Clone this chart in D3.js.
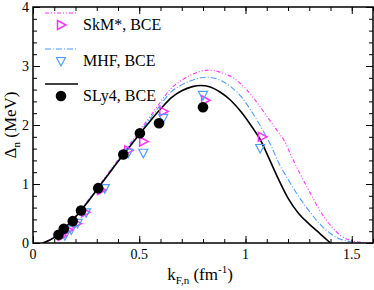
<!DOCTYPE html>
<html>
<head>
<meta charset="utf-8">
<script src="https://cdn.jsdelivr.net/npm/d3@7"></script>
<style>
  body { margin: 0; background: #fff; }
  svg text { font-family: "Liberation Serif", "Times New Roman", serif; }
</style>
</head>
<body>
<div id="chart"></div>
<script>
// curves (k_F,n in fm^-1, Delta_n in MeV)
var sly4Curve = [[0.046,0],[0.08,0.05],[0.12,0.15],[0.16,0.29],[0.2,0.44],[0.25,0.66],[0.3,0.9],[0.35,1.14],[0.4,1.38],[0.45,1.61],[0.5,1.84],[0.55,2.06],[0.6,2.27],[0.65,2.46],[0.7,2.58],[0.75,2.65],[0.79,2.67],[0.83,2.65],[0.88,2.56],[0.93,2.42],[0.98,2.22],[1.03,1.97],[1.07,1.75],[1.1,1.52],[1.15,1.12],[1.2,0.76],[1.25,0.5],[1.3,0.32],[1.35,0.16],[1.4,0]];
var mhfCurve = [[0.05,0],[0.08,0.05],[0.12,0.16],[0.16,0.3],[0.2,0.45],[0.25,0.67],[0.3,0.91],[0.35,1.15],[0.4,1.39],[0.45,1.63],[0.5,1.87],[0.55,2.1],[0.6,2.34],[0.65,2.56],[0.7,2.68],[0.75,2.76],[0.82,2.81],[0.88,2.76],[0.93,2.65],[0.98,2.48],[1.03,2.22],[1.08,1.92],[1.12,1.65],[1.16,1.33],[1.2,1.08],[1.25,0.79],[1.3,0.54],[1.35,0.32],[1.4,0.16],[1.45,0.06],[1.5,0.02],[1.55,0]];
var skmCurve = [[0.05,0],[0.12,0.16],[0.2,0.46],[0.3,0.92],[0.4,1.41],[0.45,1.65],[0.5,1.9],[0.55,2.14],[0.6,2.39],[0.65,2.62],[0.7,2.76],[0.75,2.86],[0.83,2.93],[0.9,2.87],[0.95,2.78],[1.0,2.62],[1.05,2.4],[1.1,2.15],[1.15,1.9],[1.18,1.75],[1.22,1.44],[1.26,1.15],[1.3,0.88],[1.35,0.55],[1.4,0.3],[1.45,0.12],[1.5,0.04],[1.55,0.01],[1.6,0]];

// BCE points
var skmPts = [[0.135,0.12],[0.165,0.22],[0.205,0.33],[0.245,0.52],[0.32,0.9],[0.448,1.57],[0.519,1.72],[0.613,2.23],[0.81,2.42],[1.077,1.80]];
var mhfPts = [[0.15,0.13],[0.18,0.23],[0.21,0.34],[0.25,0.52],[0.338,0.93],[0.448,1.53],[0.519,1.53],[0.613,2.12],[0.80,2.51],[1.069,1.61]];
var sly4Pts = [[0.12,0.14],[0.145,0.24],[0.187,0.37],[0.226,0.55],[0.307,0.93],[0.425,1.50],[0.503,1.86],[0.593,2.03],[0.80,2.30]];

var xTicks = [0, 0.5, 1, 1.5];
var yTicks = [0, 1, 2, 3, 4];
var legendNames = ["SkM*, BCE", "MHF, BCE", "SLy4, BCE"];

var svgWidth = 374, svgHeight = 290;
var margin = {left: 33, right: 1, top: 7, bottom: 47};
var width = svgWidth - margin.left - margin.right;
var height = svgHeight - margin.top - margin.bottom;

var magenta = "#ff33ff", blue = "#4d9dff";

var svg = d3.select("#chart").append("svg")
  .attr("width", svgWidth)
  .attr("height", svgHeight);

var g = svg.append("g")
  .attr("transform", `translate(${margin.left},${margin.top})`);

var xScale = d3.scaleLinear().domain([0, 1.6]).range([0, width]);
var yScale = d3.scaleLinear().domain([0, 4]).range([height, 0]);

g.append("clipPath").attr("id", "clip")
  .append("rect").attr("width", width).attr("height", height);

var line = d3.line()
  .x(d => xScale(d[0]))
  .y(d => yScale(d[1]))
  .curve(d3.curveMonotoneX);

var plot = g.append("g").attr("clip-path", "url(#clip)");

plot.append("path").datum(skmCurve)
  .attr("d", line).attr("fill", "none")
  .attr("stroke", magenta).attr("stroke-width", 1.1)
  .attr("stroke-dasharray", "4,2,1,2,1,2");

plot.append("path").datum(mhfCurve)
  .attr("d", line).attr("fill", "none")
  .attr("stroke", blue).attr("stroke-width", 1.1)
  .attr("stroke-dasharray", "6,2,1,2");

plot.append("path").datum(sly4Curve)
  .attr("d", line).attr("fill", "none")
  .attr("stroke", "#000").attr("stroke-width", 1.6);

// markers
var triRight = "M-3.5,-4.5L5,0L-3.5,4.5Z";
var triDown = "M-4.5,-3.5L4.5,-3.5L0,5Z";

plot.selectAll(".skm").data(skmPts).enter()
  .append("path").attr("class", "skm")
  .attr("d", triRight)
  .attr("transform", d => `translate(${xScale(d[0])},${yScale(d[1])})`)
  .attr("fill", "none").attr("stroke", magenta).attr("stroke-width", 1.5);

plot.selectAll(".mhf").data(mhfPts).enter()
  .append("path").attr("class", "mhf")
  .attr("d", triDown)
  .attr("transform", d => `translate(${xScale(d[0])},${yScale(d[1])})`)
  .attr("fill", "none").attr("stroke", blue).attr("stroke-width", 1.2);

plot.selectAll(".sly").data(sly4Pts).enter()
  .append("circle").attr("class", "sly")
  .attr("cx", d => xScale(d[0]))
  .attr("cy", d => yScale(d[1]))
  .attr("r", 5.3)
  .attr("fill", "#000");

// inward ticks on all four sides
function ticks(axis, values, size, tf) {
  var a = g.append("g").attr("transform", tf)
    .call(axis.tickValues(values).tickSize(size).tickFormat(""));
  a.select(".domain").remove();
  a.selectAll("line").attr("stroke", "#000");
}
var xMinor = d3.range(0, 1.61, 0.1);
var yMinor = d3.range(0, 4.01, 0.2);

ticks(d3.axisTop(xScale), xMinor, 4, `translate(0,${height})`);
ticks(d3.axisTop(xScale), xTicks, 7, `translate(0,${height})`);
ticks(d3.axisBottom(xScale), xMinor, 4, "translate(0,0)");
ticks(d3.axisBottom(xScale), xTicks, 7, "translate(0,0)");
ticks(d3.axisRight(yScale), yMinor, 4, "translate(0,0)");
ticks(d3.axisRight(yScale), yTicks, 7, "translate(0,0)");
ticks(d3.axisLeft(yScale), yMinor, 4, `translate(${width},0)`);
ticks(d3.axisLeft(yScale), yTicks, 7, `translate(${width},0)`);

g.append("rect").attr("width", width).attr("height", height)
  .attr("fill", "none").attr("stroke", "#000").attr("stroke-width", 1.5);

// tick labels
g.selectAll(".xlab").data(xTicks).enter().append("text")
  .attr("x", d => xScale(d)).attr("y", height + 16)
  .attr("text-anchor", "middle").attr("font-size", 14)
  .text(d => d);
g.selectAll(".ylab").data(yTicks).enter().append("text")
  .attr("x", -4).attr("y", d => yScale(d) + 5)
  .attr("text-anchor", "end").attr("font-size", 14)
  .text(d => d);

// axis titles
var xt = svg.append("text")
  .attr("x", 200).attr("y", 280)
  .attr("text-anchor", "middle").attr("font-size", 17);
xt.append("tspan").text("k");
xt.append("tspan").attr("font-size", 11).attr("dy", 4).text("F,n");
xt.append("tspan").attr("dy", -4).text(" (fm");
xt.append("tspan").attr("font-size", 11).attr("dy", -7).text("-1");
xt.append("tspan").attr("dy", 7).text(")");

var yt = svg.append("text")
  .attr("transform", "translate(16,125) rotate(-90)")
  .attr("text-anchor", "middle").attr("font-size", 17);
yt.append("tspan").text("Δ");
yt.append("tspan").attr("font-size", 11).attr("dy", 4).text("n");
yt.append("tspan").attr("dy", -4).text(" (MeV)");

// legend
var legY = [13, 49, 84];
var leg = svg.append("g");
var legStroke = [[magenta, "4,2,1,2,1,2", 1.1], [blue, "6,2,1,2", 1.1], ["#000", null, 1.6]];
legendNames.forEach(function (name, i) {
  leg.append("line")
    .attr("x1", 45).attr("x2", 78).attr("y1", legY[i]).attr("y2", legY[i])
    .attr("stroke", legStroke[i][0]).attr("stroke-width", legStroke[i][2])
    .attr("stroke-dasharray", legStroke[i][1]);
  var my = legY[i] + 12;
  if (i == 0) leg.append("path").attr("d", triRight).attr("transform", `translate(61,${my})`)
    .attr("fill", "none").attr("stroke", magenta).attr("stroke-width", 1.5);
  if (i == 1) leg.append("path").attr("d", triDown).attr("transform", `translate(61,${my})`)
    .attr("fill", "none").attr("stroke", blue).attr("stroke-width", 1.2);
  if (i == 2) leg.append("circle").attr("cx", 61).attr("cy", my).attr("r", 5.3).attr("fill", "#000");
  leg.append("text").attr("x", 83).attr("y", my + 5)
    .attr("font-size", 16).text(name);
});
</script>
</body>
</html>
